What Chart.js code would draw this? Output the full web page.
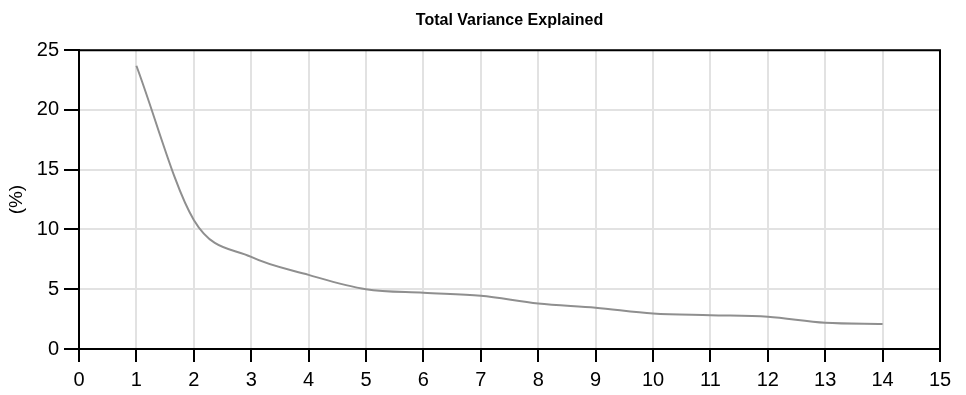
<!DOCTYPE html>
<html>
<head>
<meta charset="utf-8">
<script src="https://cdn.jsdelivr.net/npm/chart.js@4/dist/chart.umd.min.js"></script>
<style>
  html, body { margin: 0; padding: 0; background: #fff; }
  #wrap { width: 966px; height: 395px; }
</style>
</head>
<body>
<div id="wrap"><canvas id="myChart" width="966" height="395"></canvas></div>
<script>
const components = [1, 2, 3, 4, 5, 6, 7, 8, 9, 10, 11, 12, 13, 14];
const variancePct = [23.7, 10.8, 7.7, 6.2, 5.0, 4.7, 4.45, 3.8, 3.45, 2.97, 2.83, 2.7, 2.2, 2.1];
const xTicks = [0, 15];
const yTicks = [0, 25];

const FONT = 'Liberation Sans, Arial, Helvetica, sans-serif';

// black frame on the top and right of the plot area
const frame = {
  id: 'frame',
  afterDraw(chart) {
    const a = chart.chartArea;
    const ctx = chart.ctx;
    ctx.save();
    ctx.strokeStyle = '#000';
    ctx.lineWidth = 2;
    ctx.beginPath();
    ctx.moveTo(a.left, a.top);
    ctx.lineTo(a.right, a.top);
    ctx.lineTo(a.right, a.bottom);
    ctx.stroke();
    ctx.restore();
  }
};

function buildChart() {
  const ctx = document.getElementById('myChart').getContext('2d');
  const myChart = new Chart(ctx, {
    type: 'line',
    data: {
      datasets: [{
        label: 'Variance',
        data: components.map((c, i) => ({ x: c, y: variancePct[i] })),
        borderColor: '#8f8f8f',
        borderWidth: 2,
        pointRadius: 0,
        cubicInterpolationMode: 'monotone',
        fill: false
      }]
    },
    options: {
      responsive: false,
      animation: false,
      layout: { padding: { left: 0, right: 26, top: 0, bottom: 0 } },
      plugins: {
        legend: { display: false },
        tooltip: { enabled: false },
        title: {
          display: true,
          text: 'Total Variance Explained',
          fullSize: false,
          color: '#000',
          font: { family: FONT, size: 16, weight: 'bold' },
          padding: { top: 11, bottom: 20 }
        }
      },
      scales: {
        x: {
          type: 'linear',
          min: xTicks[0],
          max: xTicks[1],
          afterFit(scale) { scale.height = 46; },
          ticks: {
            stepSize: 1,
            color: '#000',
            padding: 6,
            maxRotation: 0,
            font: { family: FONT, size: 20 }
          },
          grid: {
            color: '#e2e2e2',
            lineWidth: 2,
            tickLength: 13,
            tickColor: '#000',
            tickWidth: 2
          },
          border: { color: '#000', width: 2 }
        },
        y: {
          min: yTicks[0],
          max: yTicks[1],
          afterFit(scale) { scale.width = 79; },
          title: {
            display: true,
            text: '(%)',
            color: '#000',
            font: { family: FONT, size: 19 },
            padding: { top: 5, bottom: 0 }
          },
          ticks: {
            stepSize: 5,
            color: '#000',
            padding: 5,
            font: { family: FONT, size: 20 }
          },
          grid: {
            color: '#e2e2e2',
            lineWidth: 2,
            tickLength: 15,
            tickColor: '#000',
            tickWidth: 2
          },
          border: { color: '#000', width: 2 }
        }
      }
    },
    plugins: [frame]
  });
  return myChart;
}

buildChart();
</script>
</body>
</html>
